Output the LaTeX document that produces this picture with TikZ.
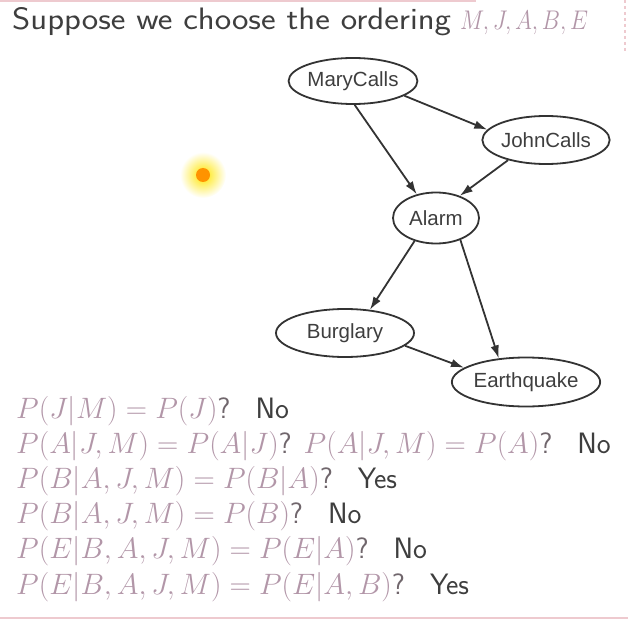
\RequirePackage{fix-cm}
\documentclass[tikz,border=0pt]{standalone}
\usepackage{fontspec}
\newfontfamily\graphfont{Liberation Sans}
\usepackage{tikz}
\usetikzlibrary{shapes.geometric,arrows.meta}
\definecolor{mathpink}{RGB}{178,150,168}
\definecolor{textgray}{RGB}{62,62,62}
\definecolor{markgray}{RGB}{112,102,108}
\definecolor{rulepink}{RGB}{238,202,207}
\newcommand{\ans}[1]{{\sffamily\color{markgray}?}\hspace{25pt}{\color{textgray}\sffamily #1}}

\begin{document}
\begin{tikzpicture}[x=1pt,y=-1pt,
	bnode/.style={ellipse,draw=black!80,line width=1.8pt,inner sep=0pt,text=textgray,
		font=\graphfont\fontsize{20.5}{24}\selectfont},
	bedge/.style={-{Latex[length=13pt,width=8.5pt]},line width=1.8pt,draw=black!80},
	eqline/.style={anchor=base west,inner sep=0pt,text=mathpink,
		font=\fontsize{29.5}{34}\selectfont}]
	\useasboundingbox (0,0) rectangle (628,620);

	%frame lines
	\draw[rulepink,line width=2pt] (0,1)--(476,1);
	\draw[rulepink,line width=1.5pt,dashed] (625,0)--(625,52);
	\draw[rulepink,line width=2pt] (0,618)--(628,618);

	%pointer
	\coordinate (spot) at (203,175);
	\shade[inner color=yellow!80!orange,outer color=white] (spot) circle (23);
	\fill[orange!85!yellow] (spot) circle (7);

	%title
	\node[anchor=base west,inner sep=0pt,text=textgray,font=\sffamily\fontsize{31}{36}\selectfont]
		(title) at (12,30) {\scalebox{1.125}[1]{Suppose we choose the ordering}\hspace{9pt}{\color{mathpink}\fontsize{27}{32}\selectfont\scalebox{0.85}[1]{$M, J, A, B, E$}}};

	%network
	\node[bnode,minimum width=128,minimum height=46] (mary)  at (353,81)  {MaryCalls};
	\node[bnode,minimum width=125,minimum height=48] (john)  at (546,140) {JohnCalls};
	\node[bnode,minimum width=86,minimum height=51]  (alarm) at (436,218) {Alarm};
	\node[bnode,minimum width=138,minimum height=48] (burg)  at (345,333) {Burglary};
	\node[bnode,minimum width=141,minimum height=49] (earth) at (526,382) {Earthquake};
	%
	\draw[bedge] (mary.-16)--(john.170);
	\draw[bedge] (mary.-86)--(alarm.129);
	\draw[bedge] (john.-152)--(alarm.43);
	\draw[bedge] (alarm.-133)--(burg.43);
	\draw[bedge] (alarm.-42)--(earth.139);
	\draw[bedge] (burg.-12)--(earth.167);

	%questions
	\node[eqline] (q1) at (16,418) {$P(J|M) = P(J)$\ans{No}};
	\node[eqline] (q2) at (16,453) {$P(A|J,M) = P(A|J)${\sffamily\color{markgray}?} $P(A|J,M) = P(A)$\ans{No}};
	\node[eqline] (q3) at (16,488) {$P(B|A,J,M) = P(B|A)$\ans{Yes}};
	\node[eqline] (q4) at (16,523) {$P(B|A,J,M) = P(B)$\ans{No}};
	\node[eqline] (q5) at (16,558) {$P(E|B,A,J,M) = P(E|A)$\ans{No}};
	\node[eqline] (q6) at (16,594) {$P(E|B,A,J,M) = P(E|A,B)$\ans{Yes}};
\end{tikzpicture}
\end{document}
